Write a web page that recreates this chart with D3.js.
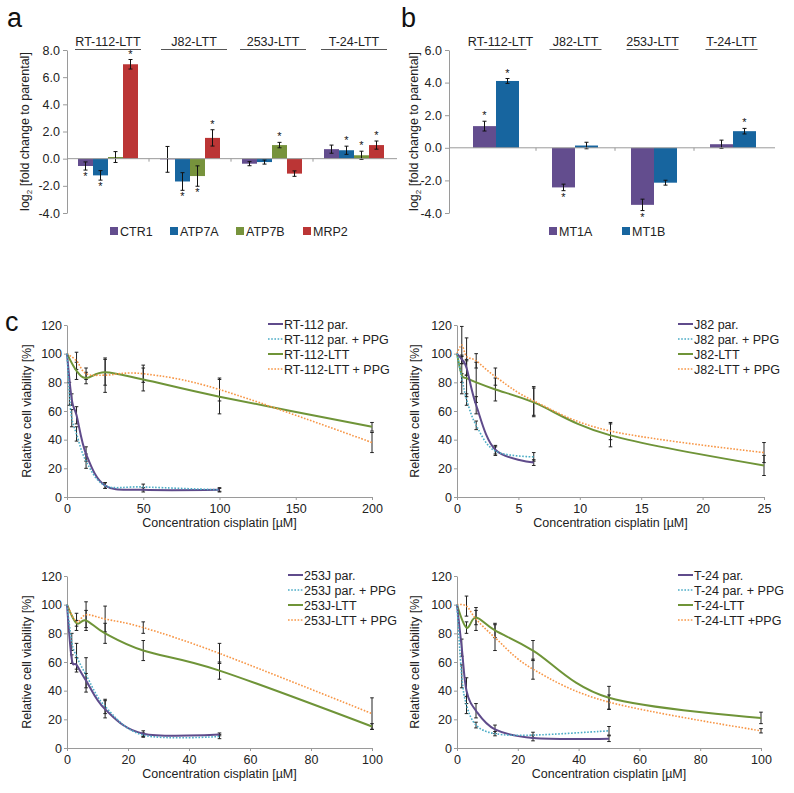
<!DOCTYPE html>
<html><head><meta charset="utf-8">
<script src="https://cdn.jsdelivr.net/npm/d3@7/dist/d3.min.js"></script>
<style>body{margin:0;background:#fff}svg{display:block;font-family:"Liberation Sans",Arial,sans-serif}</style>
</head><body><svg id="c" width="794" height="793"></svg>
<script>
// ---------- Data ----------
const groups = ["RT-112-LTT","J82-LTT","253J-LTT","T-24-LTT"];
const genesA = ["CTR1","ATP7A","ATP7B","MRP2"];
const valsA = [[-0.54,-1.23,0.12,6.95],[-0.05,-1.68,-1.28,1.53],[-0.37,-0.25,1.0,-1.1],[0.7,0.62,0.25,1.0]];
const errA  = [[0.3,0.35,0.4,0.35],[0.95,0.65,0.75,0.6],[0.15,0.15,0.2,0.2],[0.3,0.3,0.3,0.3]];
const sigA  = [[1,1,0,1],[0,1,1,1],[0,0,1,0],[0,1,1,1]];
const ticksA = [-4,-2,0,2,4,6,8];

const genesB = ["MT1A","MT1B"];
const valsB = [[1.33,4.1],[-2.43,0.14],[-3.5,-2.14],[0.22,1.02]];
const errB  = [[0.3,0.15],[0.2,0.2],[0.35,0.15],[0.25,0.17]];
const sigB  = [[1,1],[1,0],[1,0],[0,1]];
const ticksB = [-4,-2,0,2,4,6];

const seriesNamesC1 = ["RT-112 par.","RT-112 par. + PPG","RT-112-LTT","RT-112-LTT + PPG"];
const c1x = [[0,3.125,6.25,12.5,25,50,100],[0,1.5625,3.125,6.25,12.5,25,50,100],[0,6.25,12.5,25,50,100,200],[0,6.25,12.5,25,50,100,200]];
const c1y = [[100,68,57,30,8,5,5],[100,72,55,44,25,8,7,5],[100,88,83,87,82,70,49],[100,95,86,85,86,75,38]];
const c1e = [[0,4,6,5,2,1.5,1.5],[0,8,6,5,5,2,2,1],[0,6,4,9,8,12,3],[0,6,4,12,6,8,7]];
const c1ticks = [0,50,100,150,200];

const seriesNamesC2 = ["J82 par.","J82 par. + PPG","J82-LTT","J82-LTT + PPG"];
const c2x = [[0,0.39,0.78,1.5625,3.125,6.25],[0,0.39,0.78,1.5625,3.125,6.25],[0,0.39,0.78,1.5625,3.125,6.25,12.5,25],[0,0.39,0.78,1.5625,3.125,6.25,12.5,25]];
const c2y = [[100,96,90,64,33,24],[100,83,68,50,32,28],[100,85,83,80,75,66,43,22],[100,106,98,95,84,67,46,31]];
const c2e = [[0,3,5,6,3,2],[0,3,4,3,3,3],[0,13,13,14,8,10,8,7],[0,13,13,5,6,10,6,7]];
const c2ticks = [0,5,10,15,20,25];

const seriesNamesC3 = ["253J par.","253J par. + PPG","253J-LTT","253J-LTT + PPG"];
const c3x = [[0,1.5625,3.125,6.25,12.5,25,50],[0,1.5625,3.125,6.25,12.5,25,50],[0,3.125,6.25,12.5,25,50,100],[0,3.125,6.25,12.5,25,50,100]];
const c3y = [[100,62,58,47,27,10,9.5],[100,74,64,51,29,9,8],[100,87,89,80,68,54,15],[100,88,93,90,84,66,24]];
const c3e = [[0,3,5,5,6,2,1],[0,6,9,12,5,1.5,1.5],[0,2,7,7,7,6,2],[0,6,9,9,4,7,11]];
const c3ticks = [0,20,40,60,80,100];

const seriesNamesC4 = ["T-24 par.","T-24 par. + PPG","T-24-LTT","T-24-LTT +PPG"];
const c4x = [[0,1.5625,3.125,6.25,12.5,25,50],[0,1.5625,3.125,6.25,12.5,25,50],[0,3.125,6.25,12.5,25,50,100],[0,3.125,6.25,12.5,25,50,100]];
const c4y = [[100,70,40,26,13,7,6.5],[100,50,30,16,10,9,12],[100,84,91,82,68,35,21],[100,99,90,77,55,32,12]];
const c4e = [[0,6,9,5,3,2,2],[0,8,6,2,1.5,2,3],[0,4,5,5,7,8,4],[0,7,8,9,7,5,1.5]];
const c4ticks = [0,20,40,60,80,100];
const viabTicks = [0,20,40,60,80,100,120];

// ---------- Styles ----------
const barColors = ["#634d8e","#17659f","#77933c","#bb3535"];
const lineColors = ["#5f4b8b","#4bacc6","#6f9438","#f79646"];
const lineDash = [null,"1.6,1.6",null,"1.6,1.6"];
const lineW = [2,1.6,2,1.6];
const axisCol = "#9a9a9a", textCol = "#222";

const svg = d3.select("#c");
svg.append("rect").attr("width",794).attr("height",793).attr("fill","#fff");

function styleAxis(g){
  g.select(".domain").attr("stroke",axisCol);
  g.selectAll(".tick line").attr("stroke",axisCol);
  g.selectAll(".tick text").attr("fill",textCol).style("font-family",'"Liberation Sans",Arial,sans-serif');
}

// ---------- Bar panels ----------
function barPanel(o){
  const y = d3.scaleLinear().domain([-4,o.ymax]).range([o.y0,o.ytop]);
  const gx = d3.scaleBand().domain(groups).range([o.xg0,o.xg1]);
  const ix = d3.scaleBand().domain(o.genes).range([o.in0,o.in1]);
  // y axis
  const ya = svg.append("g").attr("transform",`translate(${o.xAxis},0)`)
    .call(d3.axisLeft(y).tickValues(o.ticks).tickFormat(d=>d.toFixed(1)).tickSize(4).tickSizeOuter(0))
    .style("font-size","12.5px");
  styleAxis(ya);
  // bars
  groups.forEach((gname,gi)=>{
    o.genes.forEach((gene,k)=>{
      const v=o.vals[gi][k], e=o.errs[gi][k];
      const x=gx(gname)+ix(gene), w=ix.bandwidth();
      svg.append("rect").attr("x",x).attr("width",w)
        .attr("y",y(Math.max(0,v))).attr("height",Math.abs(y(v)-y(0)))
        .attr("fill",o.colors[k]);
      const cx=x+w/2;
      svg.append("line").attr("x1",cx).attr("x2",cx).attr("y1",y(v-e)).attr("y2",y(v+e)).attr("stroke","#111").attr("stroke-width",1);
      [v-e,v+e].forEach(t=>svg.append("line").attr("x1",cx-2).attr("x2",cx+2).attr("y1",y(t)).attr("y2",y(t)).attr("stroke","#111").attr("stroke-width",1));
      if(o.sig[gi][k]){
        const sy = v>=0 ? y(v+e)-2 : y(v-e)+10;
        svg.append("text").attr("x",cx).attr("y",sy).attr("text-anchor","middle").attr("font-size","11px").attr("fill","#111").text("*");
      }
    });
    // group label
    const lx=gx(gname)+gx.bandwidth()/2+o.labOff[gi];
    svg.append("text").attr("x",lx).attr("y",o.labY).attr("text-anchor","middle").attr("font-size","12.5px").attr("fill",textCol).text(gname);
    svg.append("line").attr("x1",lx-o.ulw/2).attr("x2",lx+o.ulw/2).attr("y1",o.labY+3.5).attr("y2",o.labY+3.5).attr("stroke","#555").attr("stroke-width",1);
  });
  // zero line
  svg.append("line").attr("x1",o.xAxis).attr("x2",o.xg1+2).attr("y1",y(0)).attr("y2",y(0)).attr("stroke",axisCol);
  groups.slice(1).forEach(gname=>{
    svg.append("line").attr("x1",gx(gname)).attr("x2",gx(gname)).attr("y1",y(0)).attr("y2",y(0)+3).attr("stroke",axisCol);
  });
  // y title
  const t = svg.append("text").attr("transform",`translate(${o.titleX},${(o.y0+o.ytop)/2}) rotate(-90)`)
    .attr("text-anchor","middle").attr("font-size","12.5px").attr("fill",textCol);
  t.append("tspan").text("log");
  t.append("tspan").attr("font-size","8px").attr("dy","3").text("2");
  t.append("tspan").attr("dy","-3").text(" [fold change to parental]");
  // legend
  o.genes.forEach((gene,k)=>{
    svg.append("rect").attr("x",o.legX[k]).attr("y",o.legY-4).attr("width",8).attr("height",8).attr("fill",o.colors[k]);
    svg.append("text").attr("x",o.legX[k]+10).attr("y",o.legY+4.5).attr("font-size","12.5px").attr("fill",textCol).text(gene);
  });
  // panel letter
  svg.append("text").attr("x",o.letX).attr("y",27).attr("font-size","27px").attr("fill","#111").text(o.letter);
}

barPanel({ymax:8,y0:213,ytop:50,xAxis:67,xg0:67,xg1:395,in0:11,in1:71,genes:genesA,vals:valsA,errs:errA,sig:sigA,
  ticks:ticksA,colors:barColors,labY:46,ulw:66,labOff:[0,4,1,0],titleX:29,legX:[110,170,236,303],legY:231,letX:7,letter:"a"});
barPanel({ymax:6,y0:213,ytop:50,xAxis:449,xg0:457,xg1:773,in0:16,in1:62,genes:genesB,vals:valsB,errs:errB,sig:sigB,
  ticks:ticksB,colors:[barColors[0],barColors[1]],labY:46,ulw:52,labOff:[4,0,-2,-2],titleX:418,legX:[549,622],legY:231,letX:401,letter:"b"});

// ---------- Line panels ----------
function linePanel(o){
  const x = d3.scaleLinear().domain([0,o.xmax]).range([o.x0,o.x1]);
  const y = d3.scaleLinear().domain([0,120]).range([o.y0,o.y0-172]);
  const xa = svg.append("g").attr("transform",`translate(0,${o.y0})`)
    .call(d3.axisBottom(x).tickValues(o.xticks).tickFormat(d3.format("d")).tickSize(3).tickSizeOuter(0).tickPadding(4))
    .style("font-size","12.5px");
  styleAxis(xa);
  const ya = svg.append("g").attr("transform",`translate(${o.x0},0)`)
    .call(d3.axisLeft(y).tickValues(viabTicks).tickFormat(d3.format("d")).tickSize(3).tickSizeOuter(0).tickPadding(2))
    .style("font-size","12.5px");
  styleAxis(ya);
  const line = d3.line().x(d=>x(d[0])).y(d=>y(d[1])).curve(d3.curveCatmullRom.alpha(0));
  // error bars first
  o.xs.forEach((xs,s)=>{
    xs.forEach((xv,i)=>{
      const e=o.es[s][i]; if(!e) return;
      const v=o.ys[s][i], cx=x(xv);
      svg.append("line").attr("x1",cx).attr("x2",cx).attr("y1",y(v-e)).attr("y2",y(v+e)).attr("stroke","#222").attr("stroke-width",1);
      [v-e,v+e].forEach(t=>svg.append("line").attr("x1",cx-1.8).attr("x2",cx+1.8).attr("y1",y(t)).attr("y2",y(t)).attr("stroke","#222").attr("stroke-width",1));
    });
  });
  [2,3,0,1].forEach(s=>{
    const pts=o.xs[s].map((xv,i)=>[xv,o.ys[s][i]]);
    svg.append("path").attr("d",line(pts)).attr("fill","none").attr("stroke",lineColors[s])
      .attr("stroke-width",lineW[s]).attr("stroke-dasharray",lineDash[s]);
  });
  // legend
  o.names.forEach((n,s)=>{
    const ly=o.legY+s*15;
    svg.append("line").attr("x1",o.legX).attr("x2",o.legX+15).attr("y1",ly).attr("y2",ly).attr("stroke",lineColors[s])
      .attr("stroke-width",lineW[s]).attr("stroke-dasharray",lineDash[s]);
    svg.append("text").attr("x",o.legX+16).attr("y",ly+4.5).attr("font-size","12.5px").attr("fill",textCol).text(n);
  });
  svg.append("text").attr("x",(o.x0+o.x1)/2).attr("y",o.y0+30).attr("text-anchor","middle").attr("font-size","12.5px").attr("fill",textCol).text("Concentration cisplatin [µM]");
  svg.append("text").attr("transform",`translate(${o.titleX},${o.y0-86}) rotate(-90)`).attr("text-anchor","middle").attr("font-size","12.5px").attr("fill",textCol).text("Relative cell viability [%]");
}

svg.append("text").attr("x",5).attr("y",331).attr("font-size","27px").attr("fill","#111").text("c");
linePanel({x0:67,x1:372,y0:497,xmax:200,xticks:c1ticks,xs:c1x,ys:c1y,es:c1e,names:seriesNamesC1,legX:268,legY:324,titleX:31});
linePanel({x0:457,x1:764,y0:497,xmax:25,xticks:c2ticks,xs:c2x,ys:c2y,es:c2e,names:seriesNamesC2,legX:678,legY:324,titleX:419});
linePanel({x0:67,x1:372,y0:748,xmax:100,xticks:c3ticks,xs:c3x,ys:c3y,es:c3e,names:seriesNamesC3,legX:288,legY:575,titleX:31});
linePanel({x0:457,x1:761,y0:748,xmax:100,xticks:c4ticks,xs:c4x,ys:c4y,es:c4e,names:seriesNamesC4,legX:678,legY:575,titleX:419});
</script></body></html>
